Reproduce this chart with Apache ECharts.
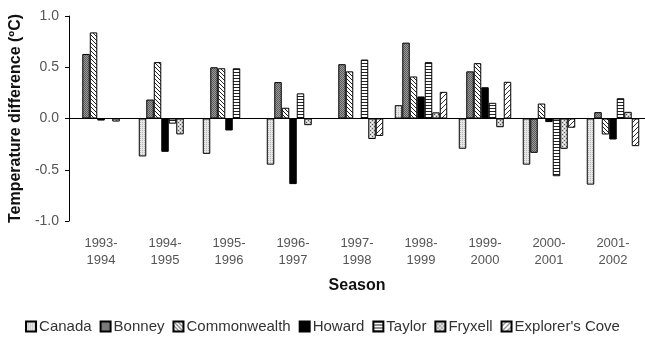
<!DOCTYPE html>
<html><head><meta charset="utf-8">
<script src="https://cdn.jsdelivr.net/npm/echarts@6/dist/echarts.min.js"></script>
<style>html,body{margin:0;padding:0;background:#fff}#c{width:645px;height:342px}</style>
</head><body><div id="c"></div>
<script>
var seasons = ['1993-\n1994','1994-\n1995','1995-\n1996','1996-\n1997','1997-\n1998','1998-\n1999','1999-\n2000','2000-\n2001','2001-\n2002'];
var seriesNames = ['Canada','Bonney','Commonwealth','Howard','Taylor','Fryxell',"Explorer's Cove"];
var canada      = [null, -0.37, -0.345, -0.45, null, 0.13, -0.295, -0.45, -0.645];
var bonney      = [0.63, 0.185, 0.50, 0.355, 0.53, 0.74, 0.46, -0.335, 0.062];
var commonwealth= [0.84, 0.55, 0.49, 0.105, 0.46, 0.41, 0.54, 0.146, -0.156];
var howard      = [-0.02, -0.325, -0.117, -0.64, null, 0.215, 0.305, -0.035, -0.205];
var taylor      = [null, -0.05, 0.49, 0.245, 0.575, 0.55, 0.153, -0.563, 0.198];
var fryxell     = [-0.03, -0.155, null, -0.065, -0.2, 0.06, -0.085, -0.296, 0.065];
var explorers   = [null, null, null, null, -0.17, 0.26, 0.358, -0.09, -0.27];
var yTicks = [-1.0, -0.5, 0.0, 0.5, 1.0];

function pat(w, h, bg, draw) {
  var c = document.createElement('canvas'); c.width = w; c.height = h;
  var g = c.getContext('2d'); g.fillStyle = bg; g.fillRect(0,0,w,h); draw(g); return {image: c, repeat: 'repeat'};
}
var patterns = [
  pat(2,2,'#e6e6e6',function(g){g.fillStyle='#b8b8b8';g.fillRect(0,0,1,1);}),
  pat(2,2,'#9a9a9a',function(g){g.fillStyle='#5a5a5a';g.fillRect(0,0,1,1);g.fillRect(1,1,1,1);}),
  pat(4,4,'#ffffff',function(g){g.fillStyle='#222';for(var i=0;i<4;i++)g.fillRect(i,i,1,1);}),
  '#000000',
  pat(4,3,'#ffffff',function(g){g.fillStyle='#222';g.fillRect(0,0,4,1);}),
  pat(4,4,'#d0d0d0',function(g){g.fillStyle='#555';g.fillRect(0,0,1,1);g.fillRect(2,2,1,1);g.fillStyle='#ffffff';g.fillRect(2,0,1,1);g.fillRect(0,2,1,1);}),
  pat(5,5,'#ffffff',function(g){g.fillStyle='#333';for(var i=0;i<5;i++)g.fillRect(4-i,i,1,1);})
];
var dataArr = [canada, bonney, commonwealth, howard, taylor, fryxell, explorers];

var chart = echarts.init(document.getElementById('c'), null, {renderer:'canvas'});
var series = seriesNames.map(function(n,i){
  return {name:n, type:'bar', data:dataArr[i], xAxisIndex:0,
    barGap:'0%', barCategoryGap:'18%',
    itemStyle:{color:patterns[i], borderColor:'#000', borderWidth:1}};
});
chart.setOption({
  animation:false,
  textStyle:{fontFamily:'Liberation Sans, Arial, sans-serif'},
  grid:{left:68, top:16, width:581, bottom:121, containLabel:false},
  legend:{bottom:3, left:'center', itemWidth:10, itemHeight:10, itemGap:8,
    icon:'rect',
    textStyle:{fontSize:15, color:'#333', fontFamily:'Liberation Sans, Arial, sans-serif', padding:[0,0,0,-2]},
    data:seriesNames},
  xAxis:[
    {type:'category', data:seasons, position:'bottom',
     axisLine:{show:false, onZero:false}, axisTick:{show:false},
     axisLabel:{color:'#555', fontSize:13, margin:14, lineHeight:17, interval:0},
     name:'Season', nameLocation:'middle', nameGap:57,
     nameTextStyle:{fontWeight:'bold', fontSize:16, color:'#111'}},
    {type:'category', data:seasons, position:'top',
     axisLine:{show:true, onZero:true, lineStyle:{color:'#000', width:1}},
     axisTick:{show:false}, axisLabel:{show:false}}
  ],
  yAxis:{type:'value', min:-1, max:1, interval:0.5,
    axisLine:{show:true, lineStyle:{color:'#000', width:1}},
    axisTick:{show:true, length:4, lineStyle:{color:'#000'}},
    splitLine:{show:false},
    axisLabel:{color:'#555', fontSize:14, margin:10, formatter:function(v){return v.toFixed(1);}},
    name:'Temperature difference (ºC)', nameLocation:'middle', nameGap:45,
    nameTextStyle:{fontWeight:'bold', fontSize:16, color:'#111'}},
  series: series
});
</script></body></html>
